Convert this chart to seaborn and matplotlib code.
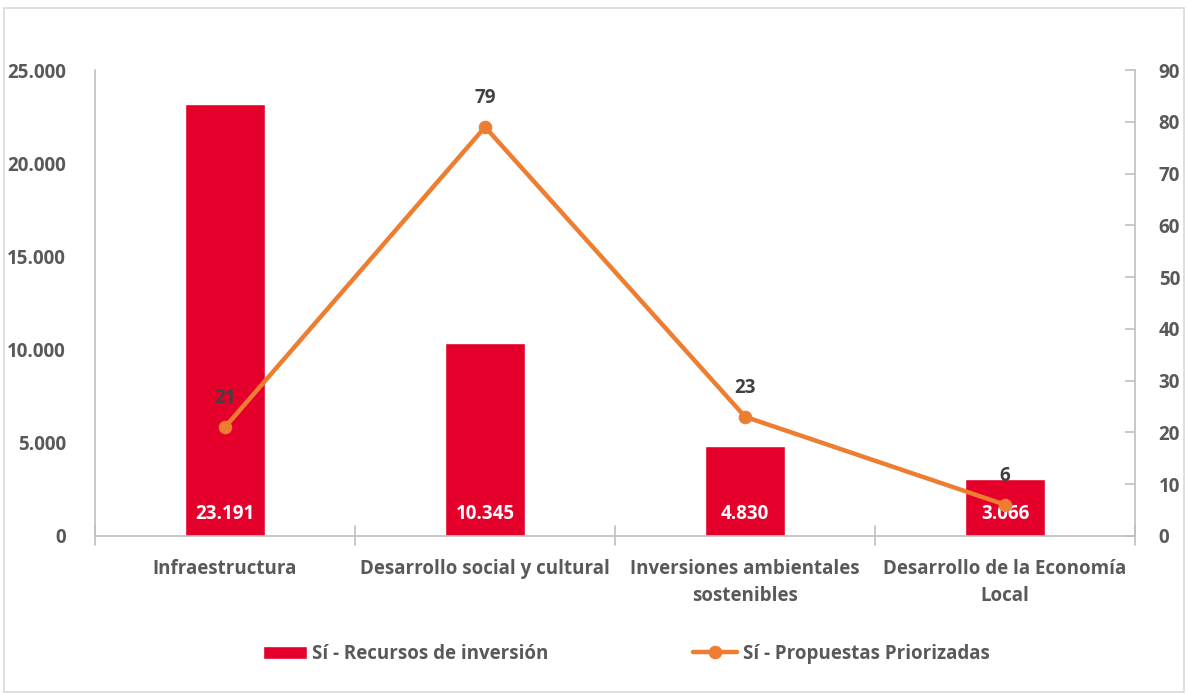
import numpy as np
import pandas as pd
import seaborn as sns
import matplotlib.pyplot as plt
from matplotlib.patches import Rectangle
from matplotlib.ticker import FuncFormatter

categorias = ["Infraestructura", "Desarrollo social y cultural",
              "Inversiones ambientales\nsostenibles", "Desarrollo de la Economía\nLocal"]
recursos = [23191, 10345, 4830, 3066]
propuestas = [21, 79, 23, 6]
left_ticks = [0, 5000, 10000, 15000, 20000, 25000]
right_ticks = [0, 10, 20, 30, 40, 50, 60, 70, 80, 90]

rojo = "#E4002B"
naranja = "#ED7D31"
gris = "#595959"
fs = 13.5

sns.set_style("white")
plt.rcParams["font.family"] = ["Open Sans", "DejaVu Sans"]
plt.rcParams["font.weight"] = "bold"

df = pd.DataFrame({"cat": categorias, "rec": recursos, "pro": propuestas,
                   "pos": np.arange(len(categorias))})

fig = plt.figure(figsize=(11.88, 6.94), dpi=100)
fig.patches.append(Rectangle((0.003, 0.003), 0.994, 0.985, transform=fig.transFigure,
                             fill=False, edgecolor="#d9d9d9", lw=1.2))
ax = fig.add_axes([0.080, 0.228, 0.8755, 0.671])

sns.barplot(data=df, x="cat", y="rec", color=rojo, width=0.31, saturation=1,
            ax=ax, label="Sí - Recursos de inversión")
ax.set_ylim(0, 25000)
ax.set_xlim(-0.5, len(categorias) - 0.5)
ax.set_yticks(left_ticks)
ax.yaxis.set_major_formatter(FuncFormatter(lambda v, p: f"{int(v):,}".replace(",", ".")))
ax.set_xlabel("")
ax.set_ylabel("")
ax.tick_params(axis="y", labelsize=fs, labelcolor=gris, length=0, pad=21)
ax.tick_params(axis="x", labelsize=fs, labelcolor=gris, length=0, pad=17)
for lbl in ax.get_xticklabels() + ax.get_yticklabels():
    lbl.set_fontweight("bold")
    lbl.set_linespacing(1.45)
for s in ["top", "right"]:
    ax.spines[s].set_visible(False)
for s in ["left", "bottom"]:
    ax.spines[s].set_color("#bfbfbf")
    ax.spines[s].set_linewidth(1.2)
# marcas entre categorias
for b in np.arange(len(categorias) + 1) - 0.5:
    ax.plot([b, b], [-0.02, 0.02], transform=ax.get_xaxis_transform(), color="#bfbfbf",
            lw=1.2, clip_on=False)

for i, v in enumerate(recursos):
    ax.text(i, 1150, f"{v:,}".replace(",", "."), ha="center", va="center",
            color="white", fontsize=fs, fontweight="bold")

ax2 = ax.twinx()
sns.lineplot(data=df, x="pos", y="pro", color=naranja, lw=3.2, marker="o", markersize=9,
             markeredgecolor=naranja, ax=ax2, label="Sí - Propuestas Priorizadas")
ax2.set_ylim(0, 90)
ax2.set_yticks(right_ticks)
ax2.set_ylabel("")
ax2.set_xlabel("")
ax2.tick_params(axis="y", labelsize=fs, labelcolor=gris, direction="in", length=7,
                color="#bfbfbf", width=1.2, pad=17)
for lbl in ax2.get_yticklabels():
    lbl.set_fontweight("bold")
for s in ["top", "left", "bottom"]:
    ax2.spines[s].set_visible(False)
ax2.spines["right"].set_color("#bfbfbf")
ax2.spines["right"].set_linewidth(1.2)
for i, v in enumerate(propuestas):
    ax2.annotate(str(v), (i, v), xytext=(0, 21), textcoords="offset points", ha="center",
                 va="center", color="#404040", fontsize=fs, fontweight="bold")

h1, l1 = ax.get_legend_handles_labels()
h2, l2 = ax2.get_legend_handles_labels()
if ax2.get_legend():
    ax2.get_legend().remove()
if ax.get_legend():
    ax.get_legend().remove()
leg = fig.legend(h1 + h2, l1 + l2, loc="center", bbox_to_anchor=(0.527, 0.058), ncol=2,
                 frameon=False, fontsize=fs, columnspacing=7.7, handlelength=2.35,
                 handletextpad=0.3)
for t in leg.get_texts():
    t.set_color(gris)
    t.set_fontweight("bold")

fig.savefig("out.png", dpi=100)
